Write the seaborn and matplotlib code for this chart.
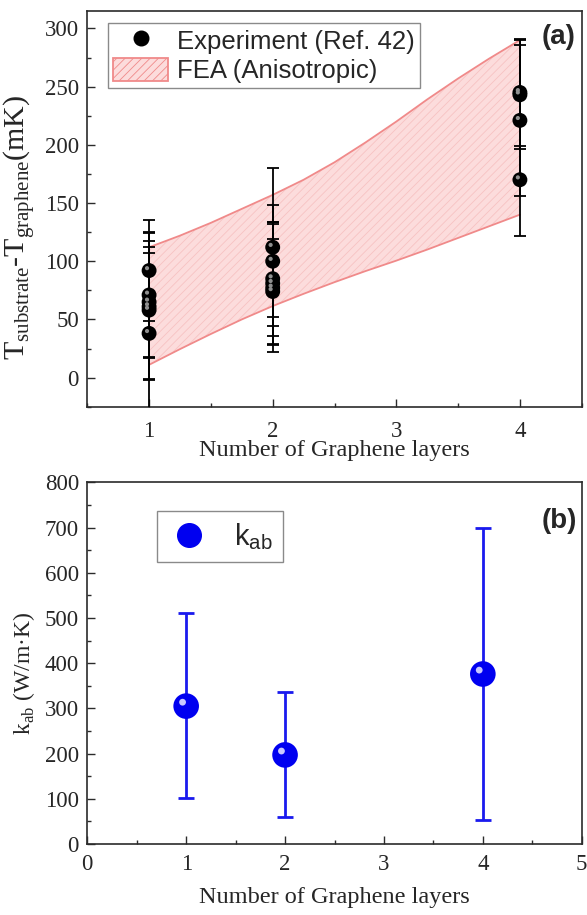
import numpy as np
import pandas as pd
import matplotlib
matplotlib.use('Agg')
import matplotlib.pyplot as plt
import seaborn as sns
from matplotlib.transforms import offset_copy
from matplotlib.patches import Patch
from matplotlib.lines import Line2D
from matplotlib.ticker import MultipleLocator

# ---------------- data ----------------
# panel (a): experiment (Ref. 42)
exp_layers = [1, 1, 1, 1, 1, 1, 2, 2, 2, 2, 2, 2, 4, 4, 4, 4]
exp_dT = [92, 71, 65, 61, 58, 38, 112, 100, 85, 81, 77, 74, 245, 243, 221, 170]
exp_err = [43, 54, 47, 63, 59, 69, 68, 48, 49, 53, 55, 45, 46, 47, 65, 48]

# panel (a): FEA (anisotropic) band
fea_layers = [1, 1.25, 1.5, 1.75, 2, 2.25, 2.5, 2.75, 3, 3.25, 3.5, 3.75, 4]
fea_high = [112, 122, 133, 145, 157, 170, 185, 202, 220, 239, 257, 274, 290]
fea_low = [11, 24.5, 37.5, 50, 61.5, 72, 82, 91.5, 100.5, 110, 120, 130, 140]

# panel (b): k_ab
kab_layers = [1, 2, 4]
kab = [305, 197, 376]
kab_low = [101, 60, 52]
kab_high = [510, 336, 700]

# ---------------- style ----------------
sns.set_style('ticks')
plt.rcParams['font.family'] = ['Liberation Serif', 'DejaVu Serif']
plt.rcParams['mathtext.fontset'] = 'custom'
plt.rcParams['mathtext.rm'] = 'Liberation Serif'
plt.rcParams['mathtext.sf'] = 'Liberation Sans'
plt.rcParams['hatch.linewidth'] = 0.6

SPINE = '#2b2b2b'
BAND_FACE = '#fcdcdc'
BAND_HATCH = '#f7c2c2'
BAND_LINE = '#f08a8a'
BLUE = '#0000f0'
BLUE_BAR = '#1a1aee'

fig = plt.figure(figsize=(5.87, 9.15), dpi=100)
axa = fig.add_axes([0.1487, 0.5555, 0.8423, 0.4325])
axb = fig.add_axes([0.1487, 0.0776, 0.8423, 0.3953])


def style_axes(ax):
    for s in ax.spines.values():
        s.set_visible(True)
        s.set_linewidth(1.2)
        s.set_color(SPINE)
    ax.tick_params(which='both', direction='in', top=False, right=False,
                   color=SPINE, width=1.0)
    ax.tick_params(which='major', length=5.5, labelsize=16.5)
    ax.tick_params(which='minor', length=3)


# ---------------- panel (a) ----------------
df_fea = pd.DataFrame({'layers': fea_layers, 'high': fea_high, 'low': fea_low})
axa.fill_between(df_fea['layers'], df_fea['low'], df_fea['high'],
                 facecolor=BAND_FACE, edgecolor=BAND_HATCH, hatch='////',
                 linewidth=0, zorder=1)
sns.lineplot(data=df_fea, x='layers', y='high', ax=axa, color=BAND_LINE,
             lw=1.3, zorder=2)
sns.lineplot(data=df_fea, x='layers', y='low', ax=axa, color=BAND_LINE,
             lw=1.3, zorder=2)

axa.errorbar(exp_layers, exp_dT, yerr=exp_err, fmt='none', ecolor='black',
             elinewidth=1.3, capsize=4, capthick=1.3, zorder=3)
df_exp = pd.DataFrame({'layers': exp_layers, 'dT': exp_dT})
sns.scatterplot(data=df_exp, x='layers', y='dT', ax=axa, color='black',
                s=115, edgecolor='none', zorder=4, legend=False)
hl_a = offset_copy(axa.transData, fig=fig, x=-1.5, y=1.7, units='points')
axa.scatter(exp_layers, exp_dT, s=9, color='#8f8f8f', edgecolor='none',
            transform=hl_a, zorder=5)

axa.set_xlim(0.5, 4.5)
axa.set_ylim(-25, 315)
axa.set_xticks([1, 2, 3, 4])
axa.xaxis.set_minor_locator(MultipleLocator(0.5))
axa.yaxis.set_major_locator(MultipleLocator(50))
axa.yaxis.set_minor_locator(MultipleLocator(25))
style_axes(axa)
axa.tick_params(axis='x', which='major', pad=10)
axa.tick_params(axis='y', which='major', pad=6)

axa.set_xlabel('Number of Graphene layers', fontsize=17.5)
axa.xaxis.set_label_coords(0.5, -0.083)
axa.set_ylabel(r'T$_{\mathrm{substrate}}$-T$_{\mathrm{graphene}}$(mK)', fontsize=21.5)
axa.yaxis.set_label_coords(-0.102, 0.454)

handles_a = [Line2D([], [], marker='o', ls='none', color='black', markersize=10.5),
             Patch(facecolor=BAND_FACE, edgecolor=BAND_LINE, hatch='////',
                   linewidth=1.3)]
leg_a = axa.legend(handles_a, ['Experiment (Ref. 42)', 'FEA (Anisotropic)'],
                   loc='upper left', bbox_to_anchor=(0.042, 0.970),
                   borderaxespad=0, prop={'family': 'Liberation Sans', 'size': 18.5},
                   frameon=True, fancybox=False, edgecolor='#8a8a8a',
                   handlelength=2.15, handleheight=1.05, handletextpad=0.35,
                   borderpad=0.2, labelspacing=0.15)
leg_a.get_frame().set_linewidth(1.0)
leg_a.get_frame().set_alpha(1)

axa.text(0.988, 0.968, '(a)', transform=axa.transAxes, ha='right', va='top',
         fontsize=20, fontweight='bold', family='Liberation Sans')

# ---------------- panel (b) ----------------
kab_arr = np.array(kab)
yerr_b = [kab_arr - np.array(kab_low), np.array(kab_high) - kab_arr]
axb.errorbar(kab_layers, kab, yerr=yerr_b, fmt='none', ecolor=BLUE_BAR,
             elinewidth=2, capsize=6, capthick=2, zorder=3)
df_kab = pd.DataFrame({'layers': kab_layers, 'kab': kab})
sns.scatterplot(data=df_kab, x='layers', y='kab', ax=axb, color=BLUE,
                s=340, edgecolor='none', zorder=4, legend=False)
hl_b = offset_copy(axb.transData, fig=fig, x=-2.6, y=2.8, units='points')
axb.scatter(kab_layers, kab, s=24, color='#c8c8ff', edgecolor='none',
            transform=hl_b, zorder=5)

axb.set_xlim(0, 5)
axb.set_ylim(0, 800)
axb.xaxis.set_major_locator(MultipleLocator(1))
axb.xaxis.set_minor_locator(MultipleLocator(0.5))
axb.yaxis.set_major_locator(MultipleLocator(100))
axb.yaxis.set_minor_locator(MultipleLocator(50))
style_axes(axb)
axb.tick_params(axis='x', which='major', pad=7)
axb.tick_params(axis='y', which='major', pad=6)

axb.set_xlabel('Number of Graphene layers', fontsize=17.5)
axb.xaxis.set_label_coords(0.5, -0.118)
axb.set_ylabel(r'k$_{\mathrm{ab}}$ (W/m·K)', fontsize=17)
axb.yaxis.set_label_coords(-0.102, 0.473)

handles_b = [Line2D([], [], marker='o', ls='none', color=BLUE, markersize=17)]
leg_b = axb.legend(handles_b, [r'k$_{\mathsf{ab}}$'],
                   loc='upper left', bbox_to_anchor=(0.141, 0.921),
                   borderaxespad=0, prop={'family': 'Liberation Sans', 'size': 21},
                   frameon=True, fancybox=False, edgecolor='#8a8a8a',
                   handlelength=1.5, handletextpad=0.8, borderpad=0.35)
leg_b.get_frame().set_linewidth(1.0)
leg_b.get_frame().set_alpha(1)

axb.text(0.990, 0.929, '(b)', transform=axb.transAxes, ha='right', va='top',
         fontsize=20, fontweight='bold', family='Liberation Sans')

fig.savefig('out.png', dpi=100)
